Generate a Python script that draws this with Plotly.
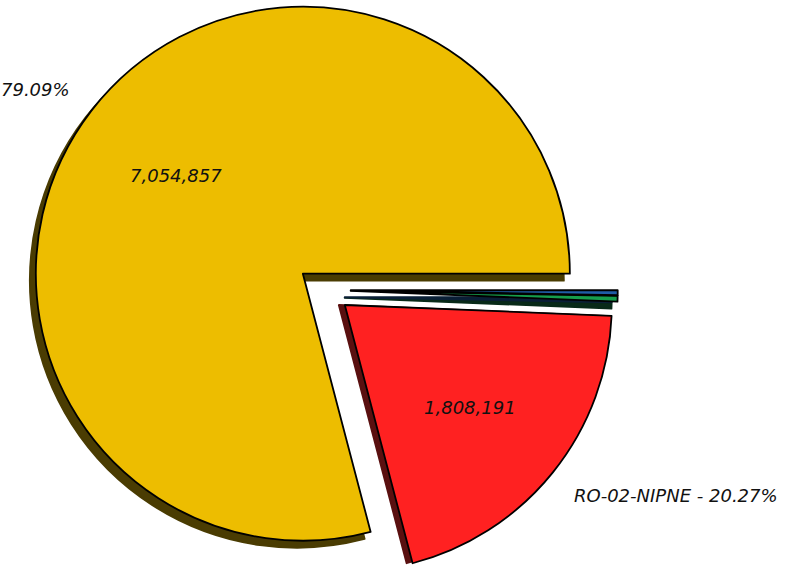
import math
import plotly.graph_objects as go

# ---- data ----
sites = ["RO-07-NIPNE", "RO-02-NIPNE", "RO-11-NIPNE", "RO-16-UAIC"]
values = [7054857, 1808191, 31000, 26500]
colors = ["#EDBD00", "#FF2121", "#169E4C", "#1F5CA6"]
shadow_colors = ["#4A3C02", "#5A1010", "#082A18", "#0A1F36"]

# ---- layout constants (pixels) ----
W, H = 797, 572
CX, CY = 324.0, 290.0      # centre of the un-exploded pie
R = 267.0                   # pie radius
EXPLODE = 0.1               # fraction of radius each wedge is pulled out
SHADOW_DX, SHADOW_DY = -6.0, 7.0
SHADOW_EDGE_W = 1.8
PCT_DIST = 0.6
LABEL_DIST_X = 1.09
LABEL_DIST_Y = 1.13
MIN_LABEL_PCT = 1.0
EDGE_W = 1.8
FONT = dict(family="DejaVu Sans", size=18, color="#111111", style="italic")

n = len(values)
total = sum(values)
fracs = [v / total for v in values]
starts, acc = [], 0.0
for f in fracs:
    starts.append(acc * 360.0)
    acc += f
mids = [s + f * 180.0 for s, f in zip(starts, fracs)]


def slice_centre(i, dx=0.0, dy=0.0):
    m = math.radians(mids[i])
    return (CX + EXPLODE * R * math.cos(m) + dx,
            CY - EXPLODE * R * math.sin(m) + dy)


def domain_for(cx, cy):
    # keep the radius, nudge the centre so the pie box stays on the page
    cx = min(max(cx, R), W - R)
    cy = min(max(cy, R), H - R)
    return dict(x=[(cx - R) / W, (cx + R) / W],
                y=[1 - (cy + R) / H, 1 - (cy - R) / H])


# plotly clockwise from 3 o'clock with reversed order == matplotlib ccw from 0
order = list(range(n))[::-1]


def pie_for(i, color, line_color, line_w, dx=0.0, dy=0.0, hover=True):
    cols = ["rgba(0,0,0,0)"] * n
    cols[i] = color
    lcols = ["rgba(0,0,0,0)"] * n
    lcols[i] = line_color
    widths = [0] * n
    widths[i] = line_w
    cx, cy = slice_centre(i, dx, dy)
    return go.Pie(
        values=[values[k] for k in order],
        labels=[sites[k] for k in order],
        marker=dict(colors=[cols[k] for k in order],
                    line=dict(color=[lcols[k] for k in order],
                              width=[widths[k] for k in order])),
        sort=False, direction="clockwise", rotation=90,
        textinfo="none",
        hoverinfo="label+value+percent" if hover else "skip",
        showlegend=False,
        domain=domain_for(cx, cy),
    )


fig = go.Figure()
for i in range(n):
    fig.add_trace(pie_for(i, shadow_colors[i], shadow_colors[i], SHADOW_EDGE_W,
                          SHADOW_DX, SHADOW_DY, hover=False))
for i in range(n):
    fig.add_trace(pie_for(i, colors[i], "black", EDGE_W))

annotations = []
for i in range(n):
    pct = 100.0 * fracs[i]
    if pct < MIN_LABEL_PCT:
        continue
    m = math.radians(mids[i])
    cx, cy = slice_centre(i)
    vx = cx + PCT_DIST * R * math.cos(m)
    vy = cy - PCT_DIST * R * math.sin(m)
    annotations.append(dict(x=vx / W, y=1 - vy / H, xref="paper", yref="paper",
                            text=f"{values[i]:,}", showarrow=False, font=FONT,
                            xanchor="center", yanchor="middle"))
    lx = cx + LABEL_DIST_X * R * math.cos(m)
    ly = cy - LABEL_DIST_Y * R * math.sin(m)
    annotations.append(dict(x=lx / W, y=1 - ly / H, xref="paper", yref="paper",
                            text=f"{sites[i]} - {pct:.2f}%", showarrow=False, font=FONT,
                            xanchor="left" if math.cos(m) > 0 else "right",
                            yanchor="middle"))

fig.update_layout(
    width=W, height=H, autosize=False,
    margin=dict(l=0, r=0, t=0, b=0),
    paper_bgcolor="white", plot_bgcolor="white",
    annotations=annotations,
)

fig.write_html("out.html")
